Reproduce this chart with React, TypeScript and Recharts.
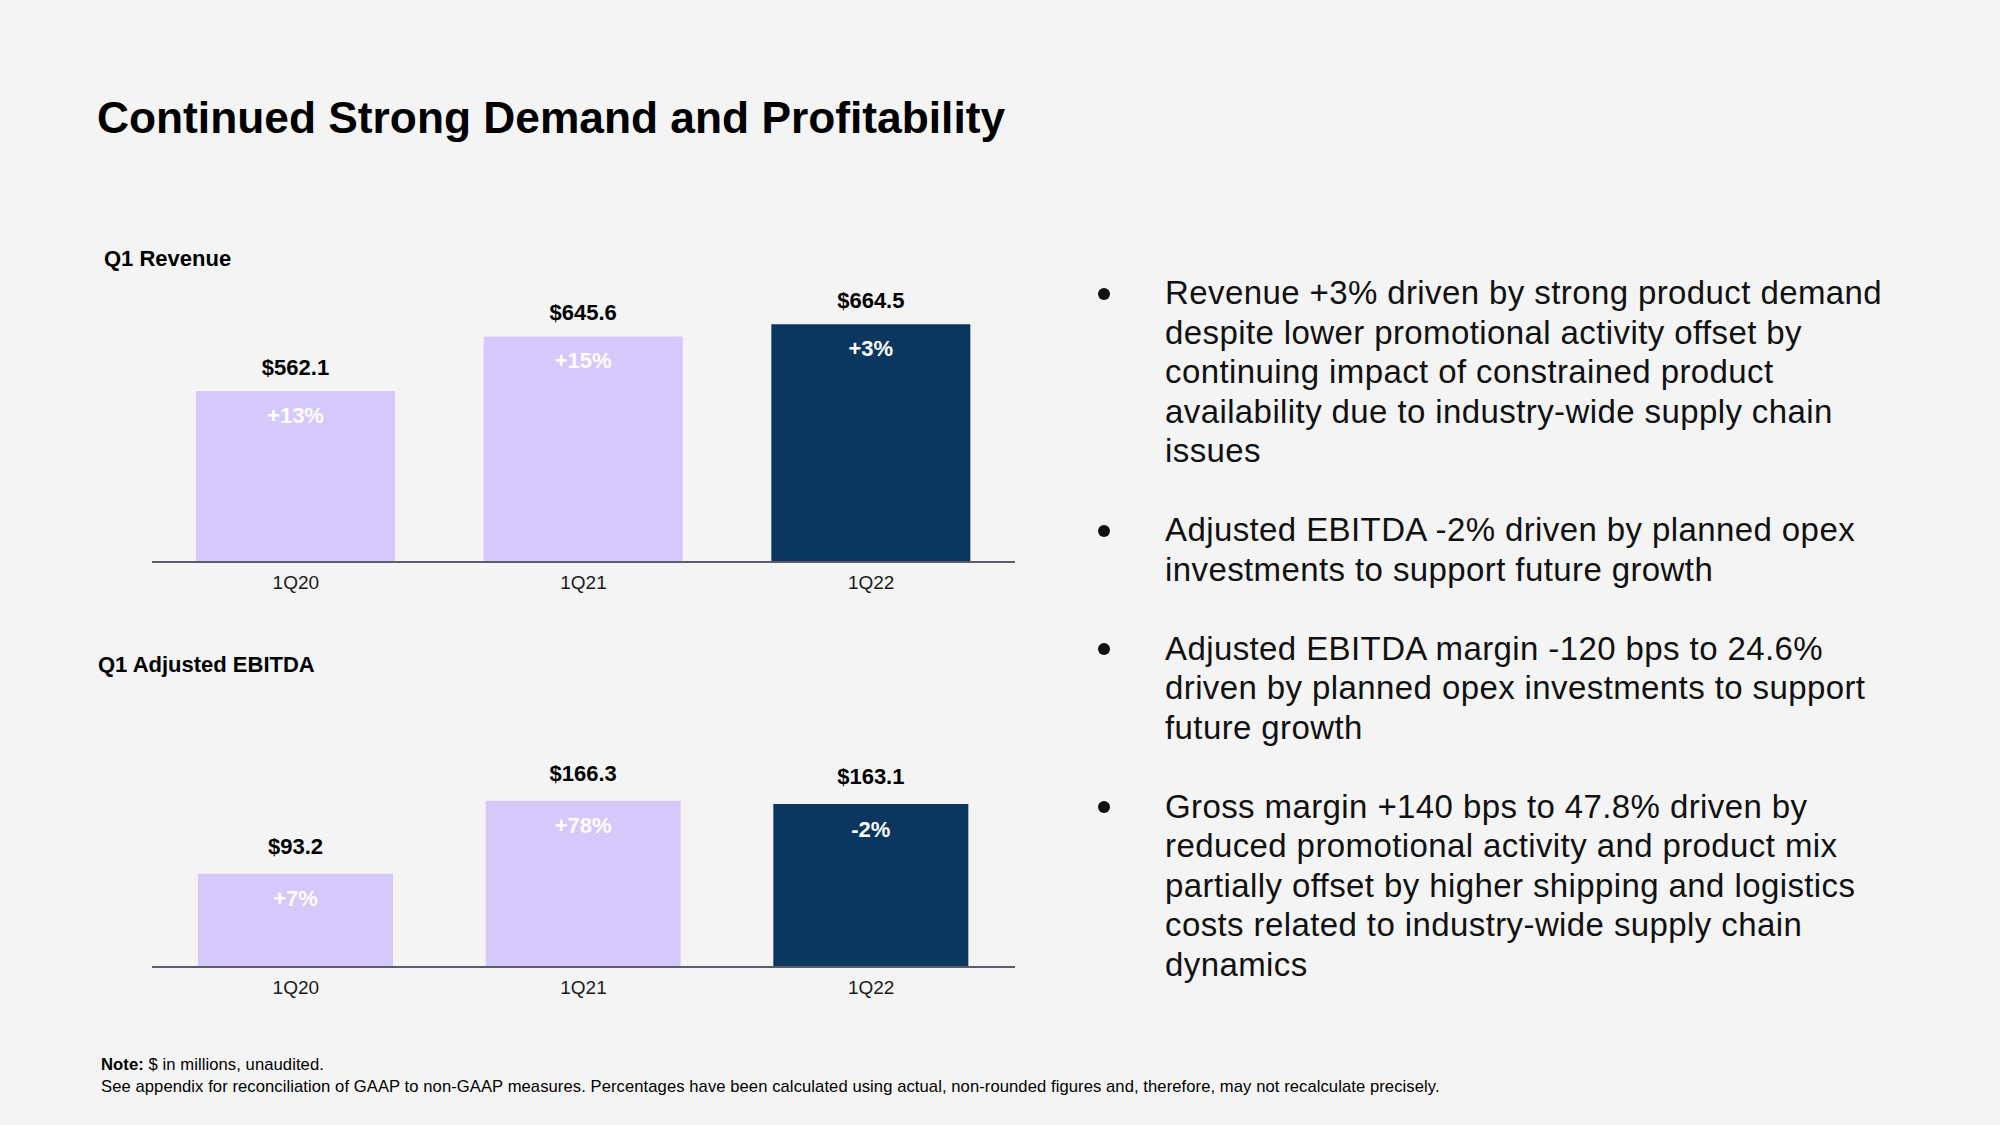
import { BarChart, Bar, XAxis, YAxis, LabelList, Cell } from "recharts"

const quarters = ["1Q20", "1Q21", "1Q22"]
const revenue = [562.1, 645.6, 664.5]
const revenueGrowth = ["+13%", "+15%", "+3%"]
const ebitda = [93.2, 166.3, 163.1]
const ebitdaGrowth = ["+7%", "+78%", "-2%"]
const isCurrent = [false, false, true]

const bullets = [
    [
        "Revenue +3% driven by strong product demand",
        "despite lower promotional activity offset by",
        "continuing impact of constrained product",
        "availability due to industry-wide supply chain",
        "issues",
    ],
    [
        "Adjusted EBITDA -2% driven by planned opex",
        "investments to support future growth",
    ],
    [
        "Adjusted EBITDA margin -120 bps to 24.6%",
        "driven by planned opex investments to support",
        "future growth",
    ],
    [
        "Gross margin +140 bps to 47.8% driven by",
        "reduced promotional activity and product mix",
        "partially offset by higher shipping and logistics",
        "costs related to industry-wide supply chain",
        "dynamics",
    ],
]

const FONT = "'Liberation Sans', Arial, Helvetica, sans-serif"
const LAVENDER = "#D5C8FB"
const NAVY = "#0A365F"
const LINE_H = 39.5

const revenueData = quarters.map((q, i) => ({ name: q, value: revenue[i], growth: revenueGrowth[i], current: isCurrent[i] }))
const ebitdaData = quarters.map((q, i) => ({ name: q, value: ebitda[i], growth: ebitdaGrowth[i], current: isCurrent[i] }))

type Row = { name: string; value: number; growth: string; current: boolean }

function QuarterBars({ data, domain, top, marginTop, marginBottom, barSize, valueOffset, growthOffset }: {
    data: Row[]
    domain: [number, number]
    top: number
    marginTop: number
    marginBottom: number
    barSize: number
    valueOffset: number
    growthOffset: number
}) {
    return (
        <div style={{ position: "absolute", left: 0, top }}>
            <BarChart width={1040} height={330} data={data} margin={{ top: marginTop, right: 25, left: 152, bottom: marginBottom }}>
                <YAxis hide domain={domain} allowDataOverflow />
                <XAxis
                    dataKey="name"
                    height={40}
                    axisLine={{ stroke: "#5C5C6A", strokeWidth: 2 }}
                    tickLine={false}
                    tickSize={0}
                    tickMargin={14}
                    tick={{ fill: "#1a1a1a", fontSize: 19, fontFamily: FONT }}
                />
                <Bar dataKey="value" barSize={barSize} isAnimationActive={false}>
                    {data.map((d) => (
                        <Cell key={d.name} fill={d.current ? NAVY : LAVENDER} />
                    ))}
                    <LabelList
                        dataKey="value"
                        position="top"
                        offset={valueOffset}
                        formatter={(v: any) => `$${Number(v).toFixed(1)}`}
                        style={{ fill: "#000", fontSize: 22, fontWeight: 700, fontFamily: FONT }}
                    />
                    <LabelList
                        dataKey="growth"
                        position="insideTop"
                        offset={growthOffset}
                        style={{ fill: "#fff", fontSize: 22, fontWeight: 700, fontFamily: FONT }}
                    />
                </Bar>
            </BarChart>
        </div>
    )
}

export default function App() {
    let lineIndex = 0
    return (
        <div style={{ position: "absolute", left: 0, top: 0, width: 2000, height: 1125, background: "#F4F4F4", fontFamily: FONT, color: "#000", overflow: "hidden" }}>
            <div style={{ position: "absolute", left: 97, top: 96, fontSize: 44.3, fontWeight: 700, lineHeight: 1, whiteSpace: "nowrap" }}>
                Continued Strong Demand and Profitability
            </div>

            <div style={{ position: "absolute", left: 104, top: 248, fontSize: 22, fontWeight: 700, lineHeight: 1 }}>Q1 Revenue</div>
            <QuarterBars data={revenueData} domain={[300, 700]} top={280} marginTop={21} marginBottom={8} barSize={199} valueOffset={16} growthOffset={16} />

            <div style={{ position: "absolute", left: 98, top: 654, fontSize: 22, fontWeight: 700, lineHeight: 1 }}>Q1 Adjusted EBITDA</div>
            <QuarterBars data={ebitdaData} domain={[0, 200]} top={700} marginTop={67} marginBottom={23} barSize={195} valueOffset={20} growthOffset={17} />

            <div style={{ position: "absolute", left: 1085, top: 273, width: 900 }}>
                {bullets.map((lines, b) => {
                    const start = lineIndex
                    lineIndex += lines.length + 1
                    return (
                        <div key={b} style={{ position: "absolute", left: 0, top: start * LINE_H, width: 900 }}>
                            <div style={{ position: "absolute", left: 13, top: LINE_H / 2 - 6 + 1, width: 12, height: 12, borderRadius: 6, background: "#111" }} />
                            <div style={{ position: "absolute", left: 80, top: 0, fontSize: 33, letterSpacing: 0.4, lineHeight: `${LINE_H}px`, color: "#111", whiteSpace: "nowrap" }}>
                                {lines.map((l, i) => (
                                    <div key={i}>{l}</div>
                                ))}
                            </div>
                        </div>
                    )
                })}
            </div>

            <div style={{ position: "absolute", left: 101, top: 1054, fontSize: 16.6, letterSpacing: 0.08, lineHeight: "22px", color: "#000", whiteSpace: "nowrap" }}>
                <div><b>Note:</b> $ in millions, unaudited.</div>
                <div>See appendix for reconciliation of GAAP to non-GAAP measures. Percentages have been calculated using actual, non-rounded figures and, therefore, may not recalculate precisely.</div>
            </div>
        </div>
    )
}
